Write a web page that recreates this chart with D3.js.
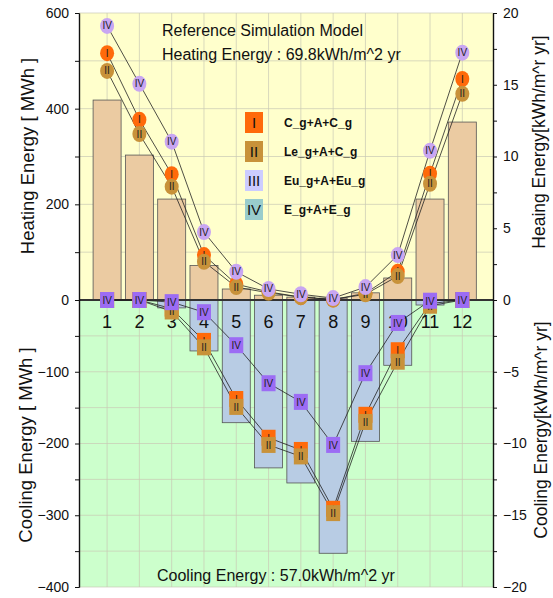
<!DOCTYPE html>
<html>
<head>
<meta charset="utf-8">
<script src="https://cdn.jsdelivr.net/npm/d3@7"></script>
<style>
  body { margin: 0; background: #fff; }
  svg { display: block; font-family: "Liberation Sans", Arial, sans-serif; }
</style>
</head>
<body>
<svg id="chart"></svg>
<script>
// monthly values, MWh
const months = [1, 2, 3, 4, 5, 6, 7, 8, 9, 10, 11, 12];
const heatBar = [418, 303, 211, 72, 23, 10, 6, 4, 15, 46, 211, 372];
const coolBar = [0, 0, -11, -71, -171, -234, -255, -353, -197, -91, -7, 0];

const heatI = [516, 377, 263, 94, 33, 17, 6, 1, 14, 59, 264, 462];
const heatII = [479, 347, 237, 80, 27, 15, 6, 1, 12, 50, 243, 431];
const heatIV = [573, 452, 331, 142, 59, 23, 12, 4, 27, 94, 312, 517];

const coolI = [0, 0, -12, -57, -138, -192, -209, -291, -160, -70, -5, 0];
const coolII = [0, 0, -16, -66, -149, -202, -218, -297, -170, -86, -8, 0];
const coolIV = [0, 0, -3, -17, -63, -116, -142, -202, -102, -32, -1, 0];

const legendKeys = ["I", "II", "III", "IV"];
const legendNames = ["C_g+A+C_g", "Le_g+A+C_g", "Eu_g+A+Eu_g", "E_g+A+E_g"];

const leftHeatTicks = [0, 200, 400, 600];
const leftCoolTicks = [-100, -200, -300, -400];
const rightHeatTicks = [0, 5, 10, 15, 20];
const rightCoolTicks = [-5, -10, -15, -20];

const width = 553, height = 598;
const pLeft = 79, pRight = 493, pTop = 13, pZero = 300, pBottom = 587;

const svg = d3.select("#chart").attr("width", width).attr("height", height);

const x = d3.scaleLinear().domain([0.13, 12.95]).range([pLeft, pRight]);
const yH = d3.scaleLinear().domain([0, 600]).range([pZero, pTop]);
const yC = d3.scaleLinear().domain([-400, 0]).range([pBottom, pZero]);
const yHR = d3.scaleLinear().domain([0, 20]).range([pZero, pTop]);
const yCR = d3.scaleLinear().domain([-20, 0]).range([pBottom, pZero]);

const colors = { I: "#ff6a0a", II: "#c8923a", III: "#ccccff", IV: "#99cccc" };

// backgrounds
svg.append("rect").attr("x", pLeft).attr("y", pTop)
  .attr("width", pRight - pLeft).attr("height", pZero - pTop).attr("fill", "#ffffcc");
svg.append("rect").attr("x", pLeft).attr("y", pZero)
  .attr("width", pRight - pLeft).attr("height", pBottom - pZero).attr("fill", "#ccffcc");

// grid
const grid = svg.append("g").attr("stroke", "#c8c8b4").attr("stroke-width", 0.7);
grid.selectAll("line.v").data(months).enter().append("line")
  .attr("x1", d => x(d)).attr("x2", d => x(d)).attr("y1", pTop).attr("y2", pBottom);
grid.selectAll("line.h").data(d3.range(100, 601, 100)).enter().append("line")
  .attr("x1", pLeft).attr("x2", pRight).attr("y1", d => yH(d)).attr("y2", d => yH(d));
grid.selectAll("line.c").data(d3.range(-50, -401, -50)).enter().append("line")
  .attr("x1", pLeft).attr("x2", pRight).attr("y1", d => yC(d)).attr("y2", d => yC(d));

// bars
const bw = 28;
svg.append("g").selectAll("rect").data(months).enter().append("rect")
  .attr("x", (d, i) => x(d) - bw / 2)
  .attr("y", (d, i) => yH(heatBar[i]))
  .attr("width", bw)
  .attr("height", (d, i) => pZero - yH(heatBar[i]))
  .attr("fill", "#ebcba2").attr("stroke", "#555").attr("stroke-width", 0.8);
svg.append("g").selectAll("rect").data(months).enter().append("rect")
  .attr("x", (d, i) => x(d) - bw / 2)
  .attr("y", pZero)
  .attr("width", bw)
  .attr("height", (d, i) => yC(coolBar[i]) - pZero)
  .attr("fill", "#b8cce4").attr("stroke", "#555").attr("stroke-width", 0.8);

// zero line
svg.append("line").attr("x1", pLeft).attr("x2", pRight)
  .attr("y1", pZero).attr("y2", pZero).attr("stroke", "#333").attr("stroke-width", 2);

// month labels
svg.append("g").selectAll("text").data(months).enter().append("text")
  .attr("x", d => x(d)).attr("y", 328).attr("text-anchor", "middle")
  .attr("font-size", 18).attr("fill", "#111").text(d => d);

// series lines
const lineH = d3.line().x((d, i) => x(months[i])).y(d => yH(d));
const lineC = d3.line().x((d, i) => x(months[i])).y(d => yC(d));
[heatI, heatII, heatIV].forEach(s => {
  svg.append("path").attr("d", lineH(s)).attr("fill", "none")
    .attr("stroke", "#222").attr("stroke-width", 0.8);
});
[coolI, coolII, coolIV].forEach(s => {
  svg.append("path").attr("d", lineC(s)).attr("fill", "none")
    .attr("stroke", "#222").attr("stroke-width", 0.8);
});

// heating markers (circles)
function circles(data, key, fill) {
  const g = svg.append("g");
  const m = g.selectAll("g").data(data).enter().append("g")
    .attr("transform", (d, i) => `translate(${x(months[i])},${yH(d)})`);
  m.append("ellipse").attr("rx", 7).attr("ry", 8).attr("fill", fill);
  m.append("text").attr("y", 3.5).attr("text-anchor", "middle")
    .attr("font-size", 10).attr("fill", "#222").text(key);
}
circles(heatI, "I", colors.I);
circles(heatII, "II", colors.II);
circles(heatIV, "IV", "#c9a6f2");

// cooling markers (squares)
function squares(data, key, fill) {
  const g = svg.append("g");
  const m = g.selectAll("g").data(data).enter().append("g")
    .attr("transform", (d, i) => `translate(${x(months[i])},${yC(d)})`);
  m.append("rect").attr("x", -7).attr("y", -8).attr("width", 14).attr("height", 16)
    .attr("fill", fill);
  m.append("text").attr("y", 4).attr("text-anchor", "middle")
    .attr("font-size", 10).attr("fill", "#222").text(key);
}
squares(coolI, "I", colors.I);
squares(coolII, "II", colors.II);
squares(coolIV, "IV", "#9c6cf4");

// legend
const lg = svg.append("g");
legendKeys.forEach((k, i) => {
  const y0 = 112 + i * 29;
  lg.append("rect").attr("x", 245).attr("y", y0).attr("width", 18).attr("height", 21)
    .attr("fill", colors[k]);
  lg.append("text").attr("x", 254).attr("y", y0 + 16).attr("text-anchor", "middle")
    .attr("font-size", 15).attr("fill", "#111").text(k);
  lg.append("text").attr("x", 284).attr("y", y0 + 15)
    .attr("font-size", 12).attr("font-weight", "bold").attr("fill", "#111")
    .text(legendNames[i]);
});

// annotation texts
svg.append("text").attr("x", 162).attr("y", 36).attr("font-size", 16).attr("fill", "#111")
  .text("Reference Simulation Model");
svg.append("text").attr("x", 162).attr("y", 60).attr("font-size", 16).attr("fill", "#111")
  .text("Heating Energy : 69.8kWh/m^2 yr");
svg.append("text").attr("x", 157).attr("y", 581).attr("font-size", 16).attr("fill", "#111")
  .text("Cooling Energy : 57.0kWh/m^2 yr");

// axes
function styleAxis(g) {
  g.selectAll("path").attr("stroke", "#111").attr("stroke-width", 1.2);
  g.selectAll("line").attr("stroke", "#111");
  g.selectAll("text").attr("font-size", 14).attr("fill", "#111")
    .attr("font-family", "Liberation Sans, Arial, sans-serif");
}
const axL1 = svg.append("g").attr("transform", `translate(${pLeft},0)`)
  .call(d3.axisLeft(yH).tickValues(leftHeatTicks).tickSize(4).tickPadding(6).tickSizeOuter(0));
axL1.call(g => g.selectAll(".tick").filter(d => d === 0).select("text").remove());
styleAxis(axL1);
styleAxis(svg.append("g").attr("transform", `translate(${pLeft},0)`)
  .call(d3.axisLeft(yH).tickValues([100, 300, 500]).tickSize(4).tickFormat("").tickSizeOuter(0)));
styleAxis(svg.append("g").attr("transform", `translate(${pLeft},0)`)
  .call(d3.axisLeft(yC).tickValues([0, ...leftCoolTicks]).tickSize(4).tickPadding(6).tickSizeOuter(0)));
styleAxis(svg.append("g").attr("transform", `translate(${pLeft},0)`)
  .call(d3.axisLeft(yC).tickValues([-50, -150, -250, -350]).tickSize(4).tickFormat("").tickSizeOuter(0)));

const axR1 = svg.append("g").attr("transform", `translate(${pRight},0)`)
  .call(d3.axisRight(yHR).tickValues(rightHeatTicks).tickSize(4).tickPadding(6).tickSizeOuter(0));
styleAxis(axR1);
styleAxis(svg.append("g").attr("transform", `translate(${pRight},0)`)
  .call(d3.axisRight(yHR).tickValues([2.5, 7.5, 12.5, 17.5]).tickSize(4).tickFormat("").tickSizeOuter(0)));
styleAxis(svg.append("g").attr("transform", `translate(${pRight},0)`)
  .call(d3.axisRight(yCR).tickValues(rightCoolTicks).tickSize(4).tickPadding(6).tickSizeOuter(0)));
styleAxis(svg.append("g").attr("transform", `translate(${pRight},0)`)
  .call(d3.axisRight(yCR).tickValues([-2.5, -7.5, -12.5, -17.5]).tickSize(4).tickFormat("").tickSizeOuter(0)));

// axis titles
function vTitle(cx, cy, txt, fs) {
  svg.append("text").attr("transform", `translate(${cx},${cy}) rotate(-90)`)
    .attr("text-anchor", "middle").attr("font-size", fs).attr("fill", "#111").text(txt);
}
vTitle(34, 156, "Heating Energy [ MWh ]", 18.5);
vTitle(32, 445, "Cooling Energy [ MWh ]", 18.5);
vTitle(545, 142, "Heaing Energy[kWh/m^r yr]", 17.5);
vTitle(547, 430, "Cooling Energy[kWh/m^r yr]", 17.5);
</script>
</body>
</html>
